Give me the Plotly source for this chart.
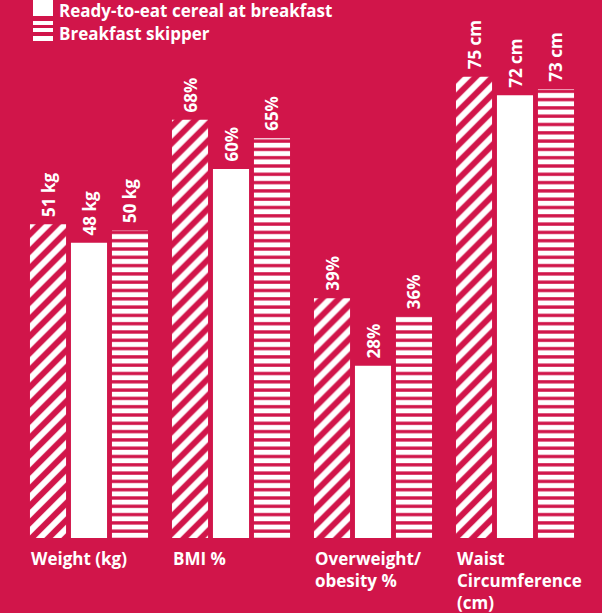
import plotly.graph_objects as go

# ---- data ----
categories = ["Weight (kg)", "BMI %", "Overweight/<br>obesity %", "Waist<br>Circumference<br>(cm)"]
units = [" kg", "%", "%", " cm"]
series_a = [51, 68, 39, 75]   # diagonal-hatched series (legend entry cut off in source)
series_b = [48, 60, 28, 72]   # Ready-to-eat cereal at breakfast
series_c = [50, 65, 36, 73]   # Breakfast skipper
names = ["Other breakfast", "Ready-to-eat cereal at breakfast", "Breakfast skipper"]

BG = "#D1154A"
WHITE = "#FFFFFF"
FONT = "Open Sans"

W, H = 602, 613
ML, MR, MT, MB = 18, 16, 0, 75
PX_PER_UNIT = 6.15
plot_h = H - MT - MB
ymax = plot_h / PX_PER_UNIT

xs = list(range(len(categories)))


def labels(vals):
    return ["\u00a0" + f"{v}{u}" for v, u in zip(vals, units)]


common = dict(textposition="outside", textangle=-90, cliponaxis=False,
              constraintext="none",
              textfont=dict(family=FONT, size=17, color=WHITE, weight="bold"),
              hoverinfo="skip", showlegend=False)

fig = go.Figure()
fig.add_trace(go.Bar(x=xs, y=series_a, name=names[0], text=labels(series_a),
                     marker=dict(color=WHITE, line=dict(width=0),
                                 pattern=dict(shape="/", fgcolor=WHITE, bgcolor=BG,
                                              size=12, solidity=0.5, fillmode="replace")),
                     **common))
fig.add_trace(go.Bar(x=xs, y=series_b, name=names[1], text=labels(series_b),
                     marker=dict(color=WHITE, line=dict(width=0)), **common))
fig.add_trace(go.Bar(x=xs, y=series_c, name=names[2], text=labels(series_c),
                     marker=dict(color=WHITE, line=dict(width=0),
                                 pattern=dict(shape="-", fgcolor=WHITE, bgcolor=BG,
                                              size=8.3, solidity=0.6, fillmode="replace")),
                     **common))

plot_w = W - ML - MR


def px_x(p):
    return (p - ML) / plot_w


def px_y(p):
    return (H - MB - p) / plot_h


shapes = []
# legend icon: solid square
shapes.append(dict(type="rect", xref="paper", yref="paper",
                   x0=px_x(33), x1=px_x(53), y0=px_y(16), y1=px_y(0),
                   fillcolor=WHITE, line=dict(width=0)))
# legend icon: horizontal stripes
for a, b in [(21, 25), (28, 32), (36, 41)]:
    shapes.append(dict(type="rect", xref="paper", yref="paper",
                       x0=px_x(33), x1=px_x(53), y0=px_y(b), y1=px_y(a),
                       fillcolor=WHITE, line=dict(width=0)))

annotations = [
    dict(text=names[1], xref="paper", yref="paper", x=px_x(57), y=px_y(10.5),
         xanchor="left", yanchor="middle", showarrow=False,
         font=dict(family=FONT, size=17, color=WHITE, weight="bold")),
    dict(text=names[2], xref="paper", yref="paper", x=px_x(57), y=px_y(33.5),
         xanchor="left", yanchor="middle", showarrow=False,
         font=dict(family=FONT, size=17, color=WHITE, weight="bold")),
]
for i, c in enumerate(categories):
    annotations.append(dict(text=c, xref="x", yref="paper", x=i, y=0,
                            xanchor="left", yanchor="top", align="left",
                            xshift=-60, yshift=-7, showarrow=False,
                            font=dict(family=FONT, size=17, color=WHITE, weight="bold")))

fig.update_layout(
    width=W, height=H,
    margin=dict(l=ML, r=MR, t=MT, b=MB),
    paper_bgcolor=BG, plot_bgcolor=BG,
    barmode="group", bargap=0.134, bargroupgap=0.12,
    xaxis=dict(range=[-0.5, 3.5], showticklabels=False, showgrid=False,
               zeroline=False, showline=False, fixedrange=True),
    yaxis=dict(range=[0, ymax], visible=False, fixedrange=True),
    shapes=shapes, annotations=annotations,
    showlegend=False,
)

fig.write_html("out.html", config={"displayModeBar": False},
               post_script="document.body.style.margin='0';document.body.style.background='%s';" % BG)
